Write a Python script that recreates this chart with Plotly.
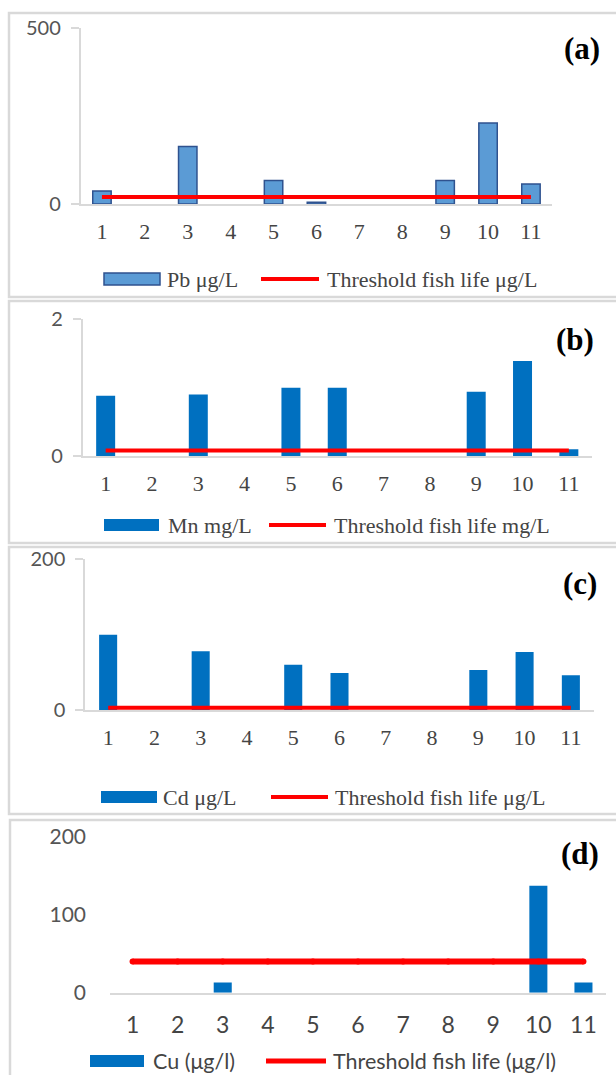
import plotly.graph_objects as go

# ---------------- data ----------------
sites = [1, 2, 3, 4, 5, 6, 7, 8, 9, 10, 11]

pb_ug_l = [37, None, 163, None, 67, 5, None, None, 67, 230, 57]
pb_threshold = [20] * 11

mn_mg_l = [0.88, None, 0.90, None, 1.0, 1.0, None, None, 0.94, 1.39, 0.10]
mn_threshold = [0.08] * 11

cd_ug_l = [100, None, 78, None, 60, 49, None, None, 53, 77, 46]
cd_threshold = [3] * 11

cu_ug_l = [None, None, 13, None, None, None, None, None, None, 137, 13]
cu_threshold = [40] * 11

panel_labels = ["(a)", "(b)", "(c)", "(d)"]
bar_names = ["Pb μg/L", "Mn mg/L", "Cd μg/L", "Cu (μg/l)"]
line_names = ["Threshold fish life μg/L", "Threshold fish life mg/L",
              "Threshold fish life μg/L", "Threshold fish life (μg/l)"]
y_ranges = [[0, 500], [0, 2], [0, 200], [0, 200]]
y_dticks = [500, 2, 200, 100]

# ---------------- layout helpers ----------------
W, H = 616, 1075
def fx(p):
    return p / W
def fy(p):
    return 1 - p / H

SERIF = "Liberation Serif"
SANS = "Lato"
TXT = "#444444"
YTXT = "#555555"
GRID = "#D9D9D9"
RED = "#FF0000"
BLUE = "#0070C0"

# pixel geometry per panel: (x_left, x_right, y_top(max), y_bottom(0))
geo = [
    (80.5, 552.4, 28, 204),
    (82.5, 592.0, 319.3, 456),
    (85.0, 594.0, 559.3, 710),
    (110.0, 606.0, 836.7, 992.7),
]
# panel frames (x0, y0, x1, y1)
frames = [
    (9, 13, 630, 297),
    (9, 301, 630, 543),
    (9, 547, 630, 814),
    (10, 820, 630, 1090),
]
label_pos = [(582, 49), (575, 340), (580, 583), (580, 853)]
# legend geometry: (key_bar_x0, key_bar_x1, text1_x, line_x0, line_x1, text2_x, y_center)
leg = [
    (104, 160, 165, 261, 319, 325, 279),
    (104, 159, 166, 269, 326, 332, 525),
    (101, 157, 161, 271, 328, 333, 797),
    (90, 144, 151, 266, 326, 331, 1061),
]

bars = [pb_ug_l, mn_mg_l, cd_ug_l, cu_ug_l]
thresholds = [pb_threshold, mn_threshold, cd_threshold, cu_threshold]
bar_widths = [0.43, 0.41, 0.39, 0.40]

fig = go.Figure()
layout = dict(
    width=W, height=H,
    margin=dict(l=0, r=0, t=0, b=0, autoexpand=False),
    paper_bgcolor="white", plot_bgcolor="white",
    showlegend=False,
    shapes=[], annotations=[],
)

for i in range(4):
    xa = "x" if i == 0 else f"x{i+1}"
    ya = "y" if i == 0 else f"y{i+1}"
    xkey = "xaxis" if i == 0 else f"xaxis{i+1}"
    ykey = "yaxis" if i == 0 else f"yaxis{i+1}"
    xl, xr, yt, yb = geo[i]

    if i == 0:
        marker = dict(color="#5B9BD5", line=dict(color="#2F528F", width=1.5))
    else:
        marker = dict(color=BLUE, line=dict(width=0))
    fig.add_trace(go.Bar(x=sites, y=bars[i], width=bar_widths[i], marker=marker,
                         name=bar_names[i], xaxis=xa, yaxis=ya))
    if i == 3:
        fig.add_trace(go.Scatter(x=sites, y=thresholds[i], mode="lines+markers",
                                 line=dict(color=RED, width=6),
                                 marker=dict(color=RED, size=6),
                                 name=line_names[i], xaxis=xa, yaxis=ya))
    else:
        fig.add_trace(go.Scatter(x=sites, y=thresholds[i], mode="lines",
                                 line=dict(color=RED, width=4),
                                 name=line_names[i], xaxis=xa, yaxis=ya))

    xfont = dict(family=SANS if i == 3 else SERIF, size=23 if i == 3 else 22, color=TXT)
    layout[xkey] = dict(
        domain=[fx(xl), fx(xr)], anchor=ya, range=[0.5, 11.5],
        tickvals=sites, ticktext=[str(s) for s in sites],
        showline=True, linecolor=GRID, linewidth=2,
        ticks="", showgrid=False, zeroline=False,
        tickfont=xfont, ticklabelstandoff=7 if i < 3 else 11,
        automargin=False, fixedrange=True,
    )
    ydict = dict(
        domain=[fy(yb), fy(yt)], anchor=xa, range=y_ranges[i],
        dtick=y_dticks[i], tick0=0,
        showgrid=False, zeroline=False,
        tickfont=dict(family=SANS, size=20 if i < 3 else 21, color=YTXT),
        automargin=False, fixedrange=True,
    )
    if i < 3:
        ydict.update(showline=True, linecolor=GRID, linewidth=1.5,
                     ticks="outside", ticklen=8, tickcolor=GRID, tickwidth=1.5,
                     ticklabelstandoff=6)
    else:
        ydict.update(showline=False, ticks="", ticklabelstandoff=23)
    layout[ykey] = ydict

    # panel frame
    x0, y0, x1, y1 = frames[i]
    layout["shapes"].append(dict(type="rect", xref="paper", yref="paper",
                                 x0=fx(x0), x1=fx(x1), y0=fy(y0), y1=fy(y1),
                                 line=dict(color=GRID, width=2.5), fillcolor="rgba(0,0,0,0)",
                                 layer="below"))
    # panel label
    lx, ly = label_pos[i]
    layout["annotations"].append(dict(text="<b>%s</b>" % panel_labels[i], xref="paper", yref="paper",
                                      x=fx(lx), y=fy(ly), xanchor="center", yanchor="middle",
                                      showarrow=False,
                                      font=dict(family=SERIF, size=31, color="black")))
    # legend
    kx0, kx1, t1x, lx0, lx1, t2x, yc = leg[i]
    if i == 0:
        kfill, kline, kw = "#5B9BD5", "#2F528F", 1.5
    else:
        kfill, kline, kw = BLUE, "rgba(0,0,0,0)", 0
    layout["shapes"].append(dict(type="rect", xref="paper", yref="paper",
                                 x0=fx(kx0), x1=fx(kx1), y0=fy(yc + 6), y1=fy(yc - 6),
                                 fillcolor=kfill, line=dict(color=kline, width=kw)))
    layout["shapes"].append(dict(type="line", xref="paper", yref="paper",
                                 x0=fx(lx0), x1=fx(lx1), y0=fy(yc), y1=fy(yc),
                                 line=dict(color=RED, width=4 if i < 3 else 5)))
    lfont = dict(family=SANS if i == 3 else SERIF, size=22 if i < 3 else 21.5, color=TXT)
    layout["annotations"].append(dict(text=bar_names[i], xref="paper", yref="paper",
                                      x=fx(t1x), y=fy(yc), xanchor="left", yanchor="middle",
                                      showarrow=False, font=lfont))
    layout["annotations"].append(dict(text=line_names[i], xref="paper", yref="paper",
                                      x=fx(t2x), y=fy(yc), xanchor="left", yanchor="middle",
                                      showarrow=False, font=lfont))

fig.update_layout(**layout)
fig.write_html("out.html", config={"displayModeBar": False},
               post_script="document.body.style.margin='0';document.body.style.overflow='hidden';")
